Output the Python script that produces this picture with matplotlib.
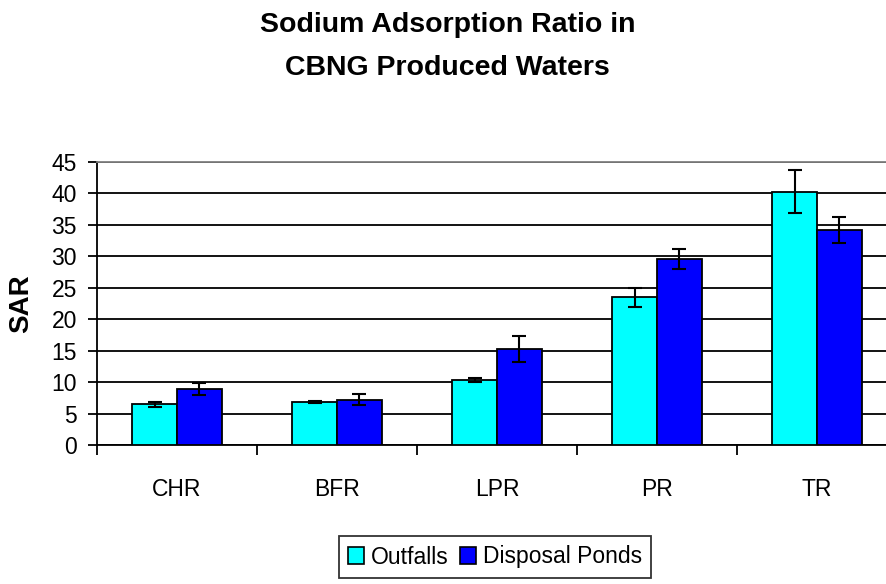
import numpy as np
import matplotlib
matplotlib.use("Agg")
import matplotlib.pyplot as plt
from matplotlib.patches import Patch

plt.rcParams["font.family"] = ["Liberation Sans", "DejaVu Sans"]

# data
categories = ["CHR", "BFR", "LPR", "PR", "TR"]
outfalls = [6.5, 6.8, 10.3, 23.5, 40.3]
outfalls_err = [0.4, 0.2, 0.3, 1.5, 3.4]
ponds = [8.9, 7.2, 15.3, 29.6, 34.2]
ponds_err = [0.9, 0.9, 2.1, 1.6, 2.1]

CYAN, BLUE = "#00FFFF", "#0000FF"

fig = plt.figure(figsize=(8.86, 5.84), dpi=100)
ax = fig.add_axes([97/886, 1-445/584, 800/886, (445-162)/584])

x = np.arange(len(categories))
w = 0.28
ekw = dict(elinewidth=1.5, capthick=1.5, ecolor="black")
ax.bar(x - w/2, outfalls, w, color=CYAN, edgecolor="black", linewidth=1.3,
       yerr=outfalls_err, capsize=4.8, error_kw=ekw, zorder=3)
ax.bar(x + w/2, ponds, w, color=BLUE, edgecolor="black", linewidth=1.3,
       yerr=ponds_err, capsize=4.8, error_kw=ekw, zorder=3)

ax.set_xlim(-0.5, len(categories) - 0.5)
ax.set_ylim(0, 45)
ax.set_yticks(range(0, 46, 5))
ax.yaxis.grid(True, color="black", linewidth=1.3)
ax.set_axisbelow(True)

ax.set_xticks(x, categories)
ax.set_xticks(np.arange(-0.5, len(categories), 1), minor=True)
ax.tick_params(axis="x", which="major", length=0, pad=24, labelsize=16.5)
ax.tick_params(axis="x", which="minor", length=7, width=1.3, direction="out")
ax.tick_params(axis="y", length=6.5, width=1.3, pad=8, labelsize=16.5)

ax.spines["right"].set_visible(False)
ax.spines["top"].set_color("#808080")
ax.spines["top"].set_linewidth(1.3)
ax.spines["left"].set_linewidth(1.3)
ax.spines["bottom"].set_linewidth(1.3)

ax.set_ylabel("SAR", fontsize=20, fontweight="bold")
ax.yaxis.set_label_coords(-0.078, 0.5)

fig.text(0.505, 1 - 12/584, "Sodium Adsorption Ratio in\nCBNG Produced Waters",
         ha="center", va="top", fontsize=20.5, fontweight="bold", linespacing=1.85)

handles = [Patch(facecolor=CYAN, edgecolor="black", linewidth=1.2, label="Outfalls"),
           Patch(facecolor=BLUE, edgecolor="black", linewidth=1.2, label="Disposal Ponds")]
leg = fig.legend(handles=handles, loc="center", bbox_to_anchor=(495/886, 1 - 557/584),
                 ncol=2, fontsize=16.5, frameon=True, fancybox=False,
                 handlelength=0.7, handleheight=0.7, handletextpad=0.3,
                 columnspacing=0.5, borderpad=0.4, borderaxespad=0)
leg.get_frame().set_edgecolor("black")
leg.get_frame().set_linewidth(1.3)

fig.savefig("out.png", dpi=100)
